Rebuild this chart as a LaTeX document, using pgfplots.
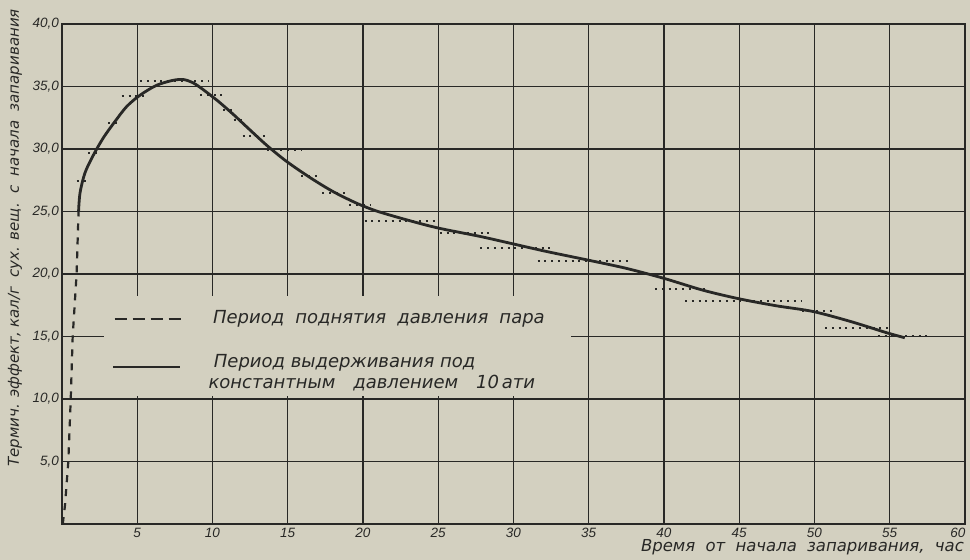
\documentclass[border=0pt]{standalone}
\usepackage{fontspec}
\setmainfont{DejaVu Sans}
\newfontfamily\tickfont{Liberation Sans}
\usepackage{pgfplots}
\pgfplotsset{compat=1.18}
\usepackage{pgfplotstable}
\definecolor{paper}{RGB}{211,208,192}
\definecolor{ink}{RGB}{40,40,38}
\newcommand\ws{\hspace{0.62em}}

\pgfplotstableread{
x y
0.05 0.0
0.2 1.5
0.42 5
0.58 10
0.71 15
0.97 20
1.1 25
}\rise

\pgfplotstableread{
x y
1.1 25.0
1.2 26.5
1.53 28.1
2.08 29.5
2.75 30.9
3.52 32.2
4.3 33.4
5.18 34.3
6.29 35.1
7.4 35.5
8.1 35.55
8.7 35.3
9.15 34.95
9.6 34.55
10.4 33.8
11.4 32.75
12.2 31.85
13.6 30.3
14.93 29.0
16.5 27.7
18.0 26.6
19.6 25.65
21.0 25.0
23.3 24.2
25.1 23.65
27.8 23.0
30.0 22.4
32.2 21.8
35.0 21.1
37.5 20.45
40.0 19.65
42.6 18.7
45.05 18.0
47.5 17.45
49.9 17.0
52.4 16.2
54.8 15.3
56.0 14.9
}\hold

\pgfplotstableread{
x y
0.98 27.4
1.75 27.4
nan nan
1.75 29.7
2.64 29.7
nan nan
3.08 32.05
3.85 32.05
nan nan
3.97 34.25
5.58 34.25
nan nan
5.18 35.45
9.8 35.45
nan nan
9.17 34.3
10.7 34.3
nan nan
10.7 33.1
11.4 33.1
nan nan
11.4 32.3
12.1 32.3
nan nan
12.0 31.0
13.7 31.0
nan nan
13.6 29.9
15.9 29.9
nan nan
15.9 27.8
17.1 27.8
nan nan
17.3 26.5
19.0 26.5
nan nan
19.1 25.5
20.5 25.5
nan nan
20.1 24.25
25.0 24.25
nan nan
25.1 23.25
28.6 23.25
nan nan
27.8 22.1
32.4 22.1
nan nan
31.6 21.05
37.9 21.05
nan nan
37.9 20.0
39.7 20.0
nan nan
39.4 18.8
42.9 18.8
nan nan
41.4 17.85
49.2 17.85
nan nan
49.2 17.0
51.2 17.0
nan nan
50.7 15.7
55.0 15.7
nan nan
54.2 15.0
57.5 15.0
}\steps

\begin{document}
\begin{tikzpicture}
\fill[paper] (-62pt,-36pt) rectangle (908pt,524pt);
\begin{axis}[
  at={(0,0)}, anchor=south west,
  scale only axis, width=903pt, height=500pt,
  xmin=0, xmax=60, ymin=0, ymax=40,
  xtick={5,10,...,55},
  extra x ticks={60},
  extra x tick style={grid=none, xticklabel style={xshift=-7pt}},
  ytick={5,10,...,40},
  yticklabels={{5,0},{10,0},{15,0},{20,0},{25,0},{30,0},{35,0},{40,0}},
  major tick length=0pt,
  grid=major,
  grid style={line width=1.2pt, ink},
  axis line style={line width=2pt, ink},
  /pgf/number format/assume math mode=true,
  every tick label/.append style={font=\tickfont\itshape\fontsize{13.5}{13.5}\selectfont, text=ink, inner sep=1pt},
  xticklabel style={anchor=north, yshift=-3pt},
  yticklabel style={anchor=east, xshift=-2pt},
  xlabel={Время\ws от\ws начала\ws запаривания,\ws час},
  xlabel style={at={(axis description cs:1,0)}, anchor=north east, yshift=-14.5pt, inner sep=1pt, font=\itshape\fontsize{16.5}{16.5}\selectfont, text=ink},
  ylabel={Термич. эффект, кал/г\ws сух. вещ.\ws с\ws начала\ws запаривания},
  ylabel style={at={(axis description cs:-0.052,0.572)}, anchor=center, rotate=0, font=\itshape\fontsize{15}{15}\selectfont, text=ink},
  unbounded coords=jump,
]
\fill[paper] (axis cs:0.15,10.25) rectangle (axis cs:33.8,18.2);
\draw[line width=1.2pt, ink] (axis cs:0,15) -- (axis cs:2.8,15);
\addplot[ink, line width=2pt, dash pattern=on 2pt off 4.8pt] table {\steps};
\addplot[ink, line width=2.2pt, dash pattern=on 7pt off 7pt, line cap=butt] table {\rise};
\addplot[ink, line width=2.8pt, smooth, tension=0.5] table {\hold};
% legend
\draw[ink, line width=2.4pt, dash pattern=on 12pt off 6pt] (axis cs:3.5,16.4) -- (axis cs:7.9,16.4);
\draw[ink, line width=2.6pt] (axis cs:3.4,12.56) -- (axis cs:7.85,12.56);
\node[anchor=west, text=ink, font=\itshape\fontsize{18}{18}\selectfont] at (axis cs:9.8,16.4) {Период\ws поднятия\ws давления\ws пара};
\node[anchor=west, text=ink, align=left, font=\itshape\fontsize{18}{21}\selectfont] at (axis cs:9.5,12.1) {\hspace{0.3em}Период выдерживания под\\константным\hspace{1.0em}давлением\hspace{1.0em}10\hspace{0.15em}ати};
\end{axis}
\pgfresetboundingbox
\useasboundingbox (-62pt,-36pt) rectangle (908pt,524pt);
\end{tikzpicture}
\end{document}
